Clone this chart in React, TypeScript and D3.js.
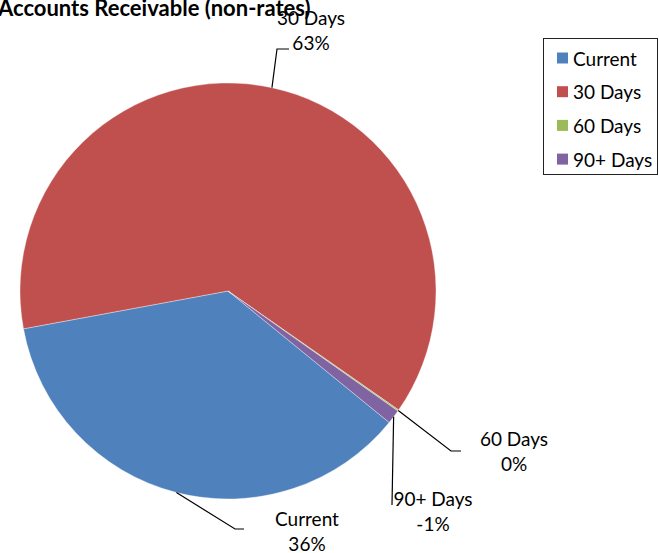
import React from "react";
import * as d3 from "d3";

// Ageing buckets for non-rates receivables
const categories = ["Current", "30 Days", "60 Days", "90+ Days"];
const amounts = [36.2, 62.6, 0.1, -1.1];
const colors = ["#4F81BD", "#C0504D", "#9BBB59", "#8064A2"];

const W = 659;
const H = 553;
const CX = 228;
const CY = 291;
const R = 208;
const START = (129.2 * Math.PI) / 180;
const FONT = "Lato, 'Open Sans', sans-serif";
const FS = 19;

// Label placement per slice: text centre, elbow and end of leader line
const labelLayout = [
  { x: 307, y: 518, elbow: [235, 529], end: [244, 529] },
  { x: 311, y: 17, elbow: [277, 49], end: [289, 49] },
  { x: 514, y: 438, elbow: [451, 451], end: [461, 451] },
  { x: 433, y: 498, elbow: [392, 505], end: [392, 505] },
];

export default function App() {
  const data = categories.map((c, i) => ({ name: c, value: amounts[i], color: colors[i] }));
  const total = d3.sum(data, (d) => Math.abs(d.value));
  const pie = d3
    .pie<any>()
    .sort(null)
    .value((d) => Math.abs(d.value))
    .startAngle(START)
    .endAngle(START + 2 * Math.PI);
  const arcs = pie(data);
  const arc = d3.arc<any>().innerRadius(0).outerRadius(R);
  const fmt = (v: number) => `${Math.round((v / total) * 100)}%`;

  return (
    <svg
      width={W}
      height={H}
      style={{ position: "absolute", left: 0, top: 0, background: "#fff" }}
      fontFamily={FONT}
    >
      <text x={-2} y={16} fontSize={22} fontWeight="bold" fill="#000">
        Accounts Receivable (non-rates)
      </text>

      <g transform={`translate(${CX},${CY})`}>
        {arcs.map((a, i) => (
          <path key={i} d={arc(a) as string} fill={a.data.color} stroke="#fff" strokeOpacity={0.6} strokeWidth={0.6} />
        ))}
      </g>

      {arcs.map((a, i) => {
        const mid = (a.startAngle + a.endAngle) / 2;
        const sx = CX + R * Math.sin(mid);
        const sy = CY - R * Math.cos(mid);
        const L = labelLayout[i];
        return (
          <g key={i}>
            <polyline
              points={`${sx},${sy} ${L.elbow[0]},${L.elbow[1]} ${L.end[0]},${L.end[1]}`}
              fill="none"
              stroke="#000"
              strokeWidth={1.2}
            />
            <text x={L.x} y={L.y} textAnchor="middle" dominantBaseline="central" fontSize={FS} fill="#000">
              {a.data.name}
            </text>
            <text x={L.x} y={L.y + 25} textAnchor="middle" dominantBaseline="central" fontSize={FS} fill="#000">
              {fmt(a.data.value)}
            </text>
          </g>
        );
      })}

      <g>
        <rect x={543.5} y={38.5} width={114} height={136} fill="#fff" stroke="#222" strokeWidth={1} />
        {data.map((d, i) => (
          <g key={i} transform={`translate(557,${58 + i * 33.7})`}>
            <rect x={0} y={-5.5} width={11} height={11} fill={d.color} />
            <text x={16} y={0} dominantBaseline="central" fontSize={FS} fill="#000">
              {d.name}
            </text>
          </g>
        ))}
      </g>
    </svg>
  );
}
